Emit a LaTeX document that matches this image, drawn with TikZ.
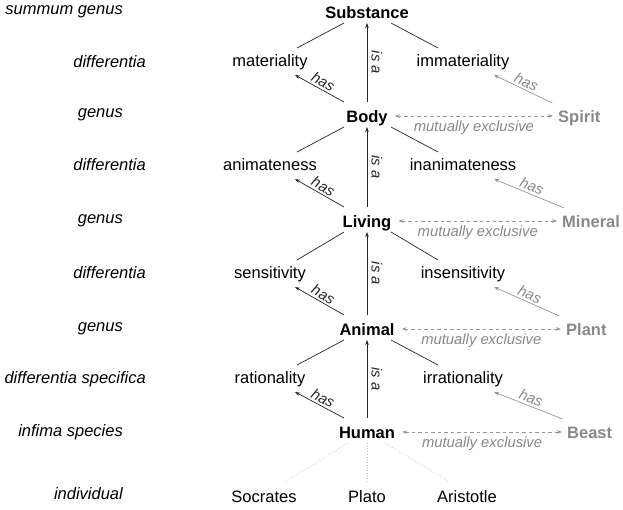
\documentclass[tikz,border=0pt]{standalone}
\usepackage{fontspec}
\setmainfont{Liberation Sans}
\usetikzlibrary{arrows.meta,calc}
\definecolor{gtext}{RGB}{136,136,136}
\definecolor{gline}{RGB}{150,150,150}
\definecolor{dline}{RGB}{190,190,190}
\tikzset{
  main/.style={font=\fontsize{16.5}{19}\selectfont\bfseries, inner sep=0pt, anchor=base},
  diffn/.style={font=\fontsize{16.5}{19}\selectfont, inner sep=0pt, anchor=base},
  lev/.style={font=\fontsize{16.5}{19}\selectfont\itshape, inner sep=0pt, anchor=base east},
  alt/.style={main, text=gtext, anchor=base west},
  lab/.style={font=\fontsize{14.8}{17}\selectfont\itshape},
  conn/.style={line width=0.7pt, black!85},
  isa/.style={conn, -{Stealth[length=5pt,width=3.6pt]}},
  ghas/.style={line width=0.7pt, gline, -{Stealth[length=5pt,width=3.6pt]}},
  mutex/.style={line width=0.7pt, gline, dash pattern=on 3.5pt off 3pt,
    {Stealth[length=5pt,width=3.6pt]}-{Stealth[length=5pt,width=3.6pt]}},
  indiv/.style={line width=0.7pt, dline, dotted}
}
\begin{document}
\begin{tikzpicture}[x=1pt,y=-1pt]
\useasboundingbox (0,0) rectangle (623,509);
% level labels
\node[lev] (l0) at (123,14) {summum genus};
\node[lev] (l1) at (146,67) {differentia};
\node[lev] (l2) at (123,117) {genus};
\node[lev] (l3) at (146,170) {differentia};
\node[lev] (l4) at (123,223) {genus};
\node[lev] (l5) at (146,278) {differentia};
\node[lev] (l6) at (123,331) {genus};
\node[lev] (l7) at (146,383) {differentia specifica};
\node[lev] (l8) at (123,436) {infima species};
\node[lev] (l9) at (123,499) {individual};
% main column
\node[main] (sub) at (367,18) {Substance};
\node[diffn] (mat) at (270,66) {materiality};
\node[diffn] (imm) at (463,66) {immateriality};
\node[main] (body) at (367,122) {Body};
\node[alt] (spirit) at (558,122) {Spirit};
\node[diffn] (anim) at (270,170) {animateness};
\node[diffn] (inan) at (463,170) {inanimateness};
\node[main] (living) at (367,227) {Living};
\node[alt] (mineral) at (562,227) {Mineral};
\node[diffn] (sens) at (270,278) {sensitivity};
\node[diffn] (insens) at (463,278) {insensitivity};
\node[main] (animal) at (367,335) {Animal};
\node[alt] (plant) at (566,335) {Plant};
\node[diffn] (rat) at (270,383) {rationality};
\node[diffn] (irr) at (463,383) {irrationality};
\node[main] (human) at (367,438) {Human};
\node[alt] (beast) at (567,438) {Beast};
\node[diffn] (soc) at (264,502) {Socrates};
\node[diffn] (plato) at (367,502) {Plato};
\node[diffn] (arist) at (467,502) {Aristotle};
% connectors
\foreach \p/\l/\r/\c/\g in {sub/mat/imm/body/spirit, body/anim/inan/living/mineral,
    living/sens/insens/animal/plant, animal/rat/irr/human/beast}{
  \draw[conn] ($(\p.base)+(-23,5)$) -- ($(\l.base)+(27,-18)$);
  \draw[conn] ($(\p.base)+(24,5)$) -- ($(\r.base)+(-25,-18)$);
  \draw[isa] ($(\c.base)+(0,-20)$) -- node[lab, midway, rotate=-90, anchor=south, inner sep=4pt]{is a} ($(\p.base)+(0,5)$);
  \draw[isa] ($(\c.base)+(-23,-20)$) -- node[lab, midway, sloped, above, inner sep=2pt]{has} ($(\l.base)+(25,9)$);
  \draw[ghas] ($(\g.base)+(-27,-19)$) -- node[lab, text=gtext, midway, sloped, above, inner sep=2pt]{has} ($(\r.base)+(31,9)$);
  \draw[mutex] ($(\c.base east)+(7,-6)$) -- node[lab, text=gtext, midway, anchor=base, yshift=-15pt, inner sep=0pt]{mutually exclusive} ($(\g.base west)+(-5,-6)$);
}
\draw[indiv] ($(human.base)+(-19,5)$) -- ($(soc.base)+(21,-20)$);
\draw[indiv] ($(human.base)+(0,5)$) -- ($(plato.base)+(0,-20)$);
\draw[indiv] ($(human.base)+(18,5)$) -- ($(arist.base)+(-17,-20)$);
\end{tikzpicture}
\end{document}
